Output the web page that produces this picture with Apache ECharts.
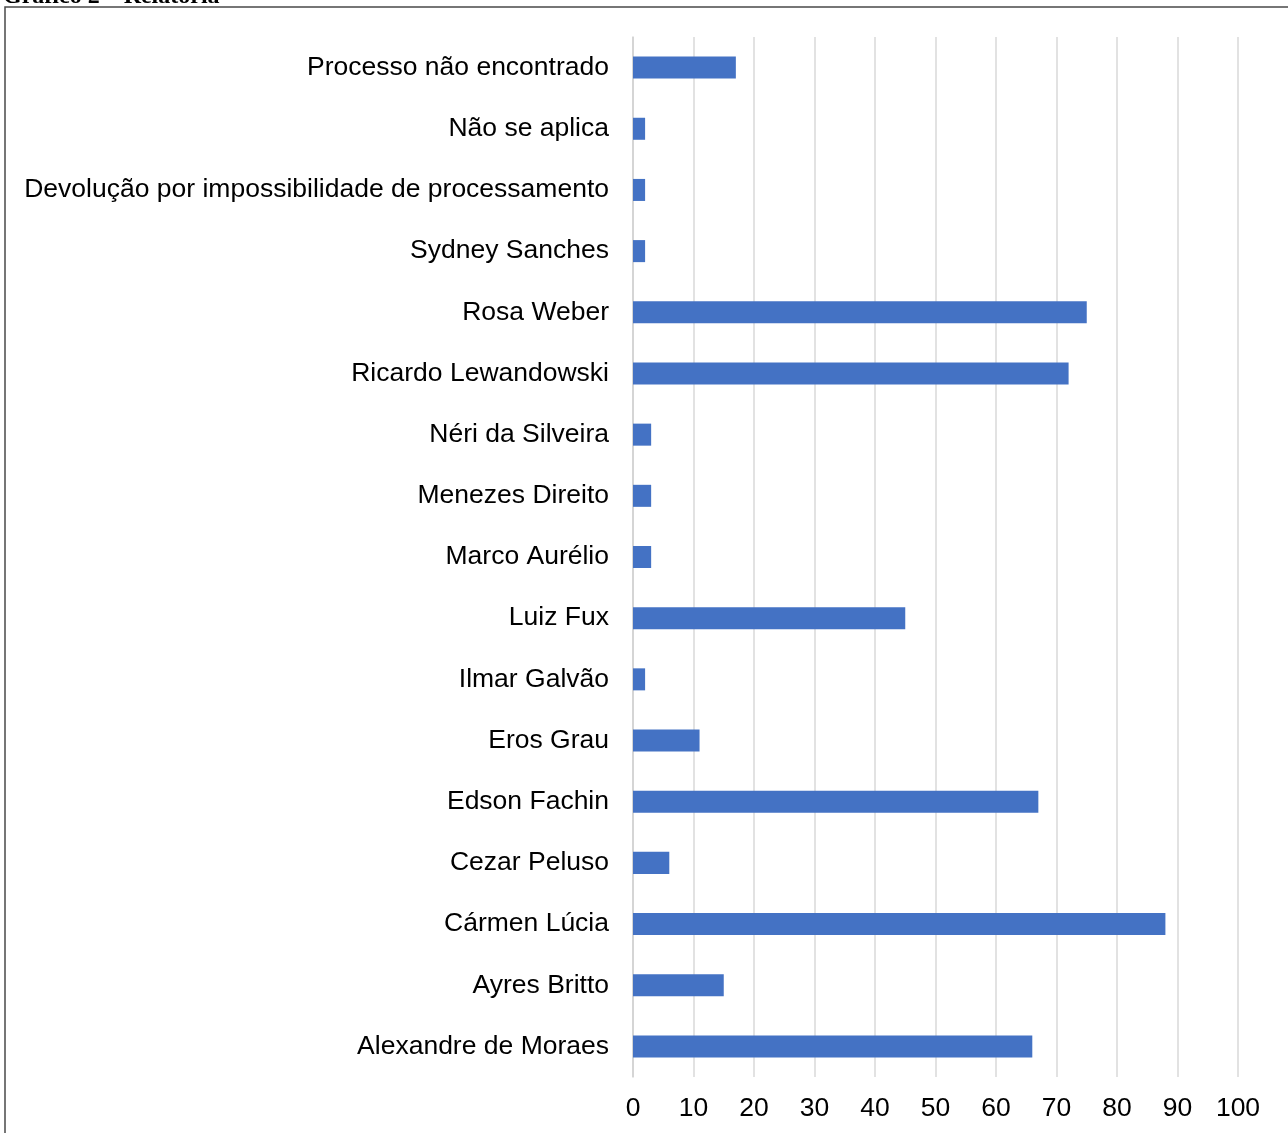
<!DOCTYPE html>
<html>
<head>
<meta charset="utf-8">
<script src="https://cdn.jsdelivr.net/npm/echarts@6/dist/echarts.min.js"></script>
<style>
  html, body { margin: 0; padding: 0; background: #fff; }
  #chart { width: 1288px; height: 1133px; }
</style>
</head>
<body>
<div id="chart"></div>
<script>
// Rapporteurs, listed top to bottom
const categories = [
  'Processo não encontrado',
  'Não se aplica',
  'Devolução por impossibilidade de processamento',
  'Sydney Sanches',
  'Rosa Weber',
  'Ricardo Lewandowski',
  'Néri da Silveira',
  'Menezes Direito',
  'Marco Aurélio',
  'Luiz Fux',
  'Ilmar Galvão',
  'Eros Grau',
  'Edson Fachin',
  'Cezar Peluso',
  'Cármen Lúcia',
  'Ayres Britto',
  'Alexandre de Moraes'
];
const counts = [17, 2, 2, 2, 75, 72, 3, 3, 3, 45, 2, 11, 67, 6, 88, 15, 66];
const xTicks = [0, 10, 20, 30, 40, 50, 60, 70, 80, 90, 100];

const chart = echarts.init(document.getElementById('chart'), null, { renderer: 'canvas' });
const font = 'Liberation Sans, Arial, sans-serif';

chart.setOption({
  animation: false,
  backgroundColor: '#ffffff',
  graphic: [
    {
      type: 'rect',
      shape: { x: 5, y: 7, width: 1300, height: 1150 },
      style: { fill: 'none', stroke: '#4a4a4a', lineWidth: 1.5 },
      silent: true
    },
    {
      type: 'text',
      x: 3,
      y: -15,
      style: {
        text: 'Gráfico 2 – Relatoria',
        font: 'bold 24px "Liberation Serif", serif',
        fill: '#000'
      },
      silent: true
    }
  ],
  grid: { left: 633, top: 37, width: 605, height: 1040, containLabel: false },
  xAxis: {
    type: 'value',
    min: xTicks[0],
    max: xTicks[xTicks.length - 1],
    interval: 10,
    axisLine: { show: false },
    axisTick: { show: false },
    axisLabel: {
      fontFamily: font,
      fontSize: 26.5,
      color: '#000',
      margin: 18,
      formatter: v => String(v)
    },
    splitLine: { show: true, lineStyle: { color: '#d9d9d9', width: 1.5 } }
  },
  yAxis: {
    type: 'category',
    data: categories,
    inverse: true,
    axisLine: { show: true, lineStyle: { color: '#d0d0d0', width: 1.5 } },
    axisTick: { show: false },
    axisLabel: {
      fontFamily: font,
      fontSize: 26.5,
      color: '#000',
      margin: 24
    },
    splitLine: { show: false }
  },
  series: [{
    type: 'bar',
    data: counts,
    barWidth: '36%',
    itemStyle: { color: '#4472C4' }
  }]
});
</script>
</body>
</html>
